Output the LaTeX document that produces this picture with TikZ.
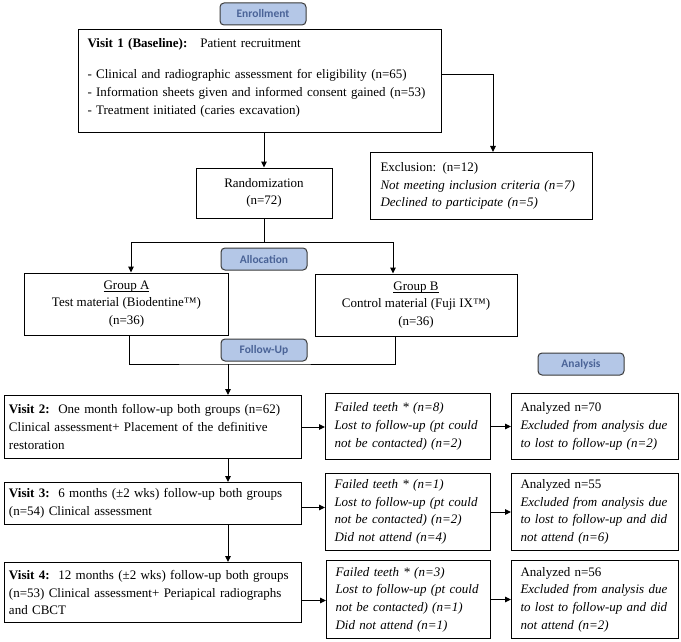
\documentclass[tikz,border=0pt]{standalone}
\usepackage{amsmath}
\usepackage{amssymb}
\usepackage{xcolor}
\usepackage{tikz}
\usepackage{fontspec}
\setmainfont{Liberation Serif}
\newfontfamily\pillfont{Carlito}
\usetikzlibrary{arrows.meta,shapes.misc}
\definecolor{pillfill}{HTML}{B4C7E7}
\definecolor{pilltext}{HTML}{4A6397}
\definecolor{pillrim}{HTML}{3A3A3A}
\newcommand{\grpline}[1]{\setbox0\hbox{#1}\rlap{\rule[-2.2pt]{\wd0}{0.8pt}}\box0}

\begin{document}
\begin{tikzpicture}[x=1pt,y=-1pt,
    every node/.style={font=\fontsize{13}{17.7}\selectfont},
    box/.style={draw,line width=1pt,rectangle,inner ysep=0pt,align=left,anchor=north west},
    lostbox/.style={box,font=\fontsize{13}{17.7}\selectfont\itshape},
    cbox/.style={draw,line width=1pt,rectangle,inner sep=0pt,align=center},
    pill/.style={draw=pillrim,line width=1pt,fill=pillfill,rounded corners=4pt,
        minimum width=86pt,minimum height=22pt,inner sep=0pt,text=pilltext,
        font=\pillfont\bfseries\fontsize{11.5}{13}\selectfont},
    link/.style={line width=1pt},
    arr/.style={line width=1pt,-{Triangle[length=6pt,width=5.5pt]}}]
    \useasboundingbox (0,0) rectangle (681,642);

    \node[pill] (enroll) at (263,14) {Enrollment};
    \node[box,inner xsep=9pt,minimum width=363pt,minimum height=103pt,text width=345pt] (visit1) at (78,29)
        {\textbf{Visit 1 (Baseline):}\quad Patient recruitment\\[13pt]
         - Clinical and radiographic assessment for eligibility (n=65)\\
         - Information sheets given and informed consent gained (n=53)\\
         - Treatment initiated (caries excavation)\\[-8.7pt]\mbox{}};
    \node[box,inner xsep=10pt,minimum width=222pt,minimum height=67pt,text width=202pt] (excl) at (370,152)
        {Exclusion: (n=12)\\ \textit{Not meeting inclusion criteria (n=7)}\\ \textit{Declined to participate (n=5)}};
    \node[cbox,minimum width=136pt,minimum height=50pt] (rand) at (264,193) {Randomization\\(n=72)};
    \node[pill] (alloc) at (264,259) {Allocation};
    \node[cbox,minimum width=204pt,minimum height=62pt] (grpA) at (126.5,304)
        {\grpline{Group A}\\Test material (Biodentine™)\\(n=36)};
    \node[cbox,minimum width=202pt,minimum height=62pt] (grpB) at (416,305)
        {\grpline{Group B}\\Control material (Fuji IX™)\\(n=36)};
    \node[pill] (follow) at (264,350) {Follow-Up};
    \node[pill] (analysis) at (581,364) {Analysis};

    \node[box,inner xsep=5pt,minimum width=297.5pt,minimum height=63pt,text width=287.5pt] (visit2) at (3.5,395)
        {\textbf{Visit 2:}\ \ One month follow-up both groups (n=62)\\Clinical assessment+ Placement of the definitive\\restoration};
    \node[lostbox,inner xsep=9pt,minimum width=165pt,minimum height=66pt,text width=147pt] (fail1) at (325,393)
        {Failed teeth * (n=8)\\Lost to follow-up (pt could\\not be contacted) (n=2)};
    \node[box,inner xsep=9pt,minimum width=167pt,minimum height=66pt,text width=149pt] (ana1) at (511,393)
        {Analyzed n=70\\ \textit{Excluded from analysis due}\\ \textit{to lost to follow-up (n=2)}};

    \node[box,inner xsep=5pt,minimum width=297.5pt,minimum height=42pt,text width=287.5pt] (visit3) at (3.5,482)
        {\textbf{Visit 3:}\ \ 6 months (±2 wks) follow-up both groups\\(n=54) Clinical assessment};
    \node[lostbox,inner xsep=9pt,minimum width=165pt,minimum height=77pt,text width=147pt] (fail2) at (325,473)
        {Failed teeth * (n=1)\\Lost to follow-up (pt could\\not be contacted) (n=2)\\Did not attend (n=4)};
    \node[box,inner xsep=9pt,minimum width=167pt,minimum height=77pt,text width=149pt] (ana2) at (511,473)
        {Analyzed n=55\\ \textit{Excluded from analysis due}\\ \textit{to lost to follow-up and did}\\ \textit{not attend (n=6)}};

    \node[box,inner xsep=5pt,minimum width=297.5pt,minimum height=60pt,text width=287.5pt] (visit4) at (3.5,562)
        {\textbf{Visit 4:}\ \ 12 months (±2 wks) follow-up both groups\\(n=53) Clinical assessment+ Periapical radiographs\\and CBCT};
    \node[lostbox,inner xsep=9pt,minimum width=164pt,minimum height=78pt,text width=146pt] (fail3) at (326,560)
        {Failed teeth * (n=3)\\Lost to follow-up (pt could\\not be contacted) (n=1)\\Did not attend (n=1)};
    \node[box,inner xsep=9pt,minimum width=167pt,minimum height=78pt,text width=149pt] (ana3) at (511,560)
        {Analyzed n=56\\ \textit{Excluded from analysis due}\\ \textit{to lost to follow-up and did}\\ \textit{not attend (n=2)}};

    \coordinate (split) at (264,242);
    \coordinate (merge) at (228,364);

    \draw[arr] ([yshift=6.5pt]visit1.east) -| ([xshift=11.5pt]excl.north);
    \draw[arr] (visit1.south -| rand.north) -- (rand.north);
    \draw[link] (rand.south) -- (split);
    \draw[arr] (split) -| ([xshift=4.5pt]grpA.north);
    \draw[arr] (split) -| ([xshift=-23pt]grpB.north);
    \draw[link] ([xshift=3pt]grpA.south) |- (merge) -| ([xshift=-21pt]grpB.south);
    \draw[arr] (merge) -- (merge |- visit2.north);
    \draw[arr] (visit2.east) -- (visit2.east -| fail1.west);
    \draw[arr] (fail1.east) -- (ana1.west);
    \draw[arr] (visit2.south -| merge) -- (visit3.north -| merge);
    \draw[arr] ([yshift=-4pt]visit3.east) -- ([yshift=-4pt]visit3.east -| fail2.west);
    \draw[arr] (fail2.east) -- (ana2.west);
    \draw[arr] (visit3.south -| merge) -- (visit4.north -| merge);
    \draw[arr] ([yshift=-8pt]visit4.east) -- ([yshift=-8pt]visit4.east -| fail3.west);
    \draw[arr] (fail3.east) -- (ana3.west);
\end{tikzpicture}
\end{document}
